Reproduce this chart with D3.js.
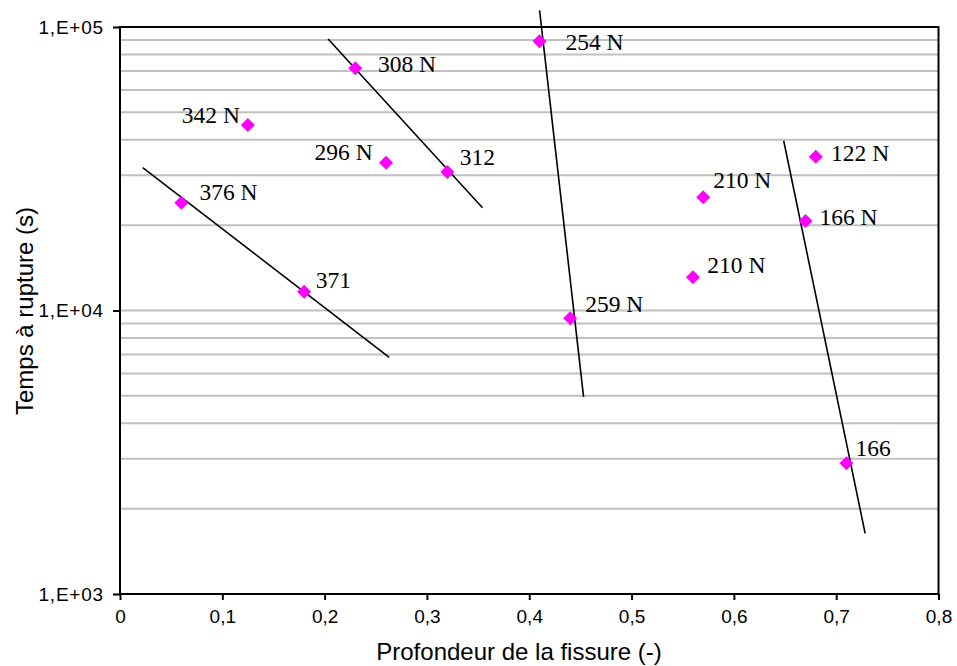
<!DOCTYPE html>
<html><head><meta charset="utf-8">
<script src="https://cdn.jsdelivr.net/npm/d3@7"></script>
<style>body{margin:0;background:#fff}svg{display:block}</style>
</head><body><svg id="c" width="957" height="666"></svg>
<script>
// Data
const depth   = [0.125, 0.06, 0.23, 0.26, 0.32, 0.41, 0.18, 0.44, 0.68, 0.57, 0.67, 0.56, 0.71];
const time    = [45100, 24000, 71500, 33200, 30800, 89000, 11650, 9385, 34880, 25070, 20690, 13100, 2890];
const labels  = ["342 N","376 N","308 N","296 N","312","254 N","371","259 N","122 N","210 N","166 N","210 N","166"];
// trend lines (start / end)
const trendX1 = [0.0222, 0.2034, 0.4101, 0.6487];
const trendY1 = [31900, 90700, 114500, 39700];
const trendX2 = [0.2631, 0.3543, 0.4531, 0.7283];
const trendY2 = [6840, 23050, 4955, 1637];
const xTicks = [0,0.1,0.2,0.3,0.4,0.5,0.6,0.7,0.8];
const yTicks = [1e3,1e4,1e5];
const yTickLabels = ["1,E+03","1,E+04","1,E+05"];
const xTitle = "Profondeur de la fissure (-)";
const yTitle = "Temps à rupture (s)";

// label offsets (style)
const lblDx = [-8,18,22.6,-13.4,12.3,26,11.7,15,15.3,10,14,14.3,9];
const lblDy = [-2,-3,3.4,-2.7,-7,8.7,-3.4,-6.6,4,-9,4,-4.6,-7.3];
const lblAnchor = ["end","start","start","end","start","start","start","start","start","start","start","start","start"];

const L=120, R=938.5, T=27, B=594;
const svg = d3.select("#c");
const x = d3.scaleLinear().domain([0,0.8]).range([L,R]);
const y = d3.scaleLog().domain([1e3,1e5]).range([B,T]);

// minor gridlines
const grid = [];
for (let k=3;k<5;k++) for (let m=1;m<=9;m++) grid.push(m*Math.pow(10,k));
svg.append("g").selectAll("line").data(grid.filter(v=>v>1e3)).join("line")
  .attr("x1",L).attr("x2",R).attr("y1",d=>y(d)).attr("y2",d=>y(d))
  .attr("stroke","#c0c0c0").attr("stroke-width",2);

// frame
svg.append("rect").attr("x",L).attr("y",T).attr("width",R-L).attr("height",B-T)
  .attr("fill","none").attr("stroke","#000").attr("stroke-width",2);

// axes
const xAxis = d3.axisBottom(x).tickValues(xTicks).tickSize(6).tickPadding(10)
  .tickFormat(d=>d3.format(".1~f")(d).replace(".",","));
const gx = svg.append("g").attr("transform",`translate(0,${B})`).call(xAxis);
const yAxis = d3.axisLeft(y).tickValues(yTicks).tickSize(7).tickPadding(9)
  .tickFormat((d,i)=>yTickLabels[i]);
const gy = svg.append("g").attr("transform",`translate(${L},0)`).call(yAxis);
[gx,gy].forEach(g=>{
  g.select(".domain").remove();
  g.selectAll(".tick line").attr("stroke","#000").attr("stroke-width",2);
  g.selectAll(".tick text").attr("fill","#000").attr("font-family","'Liberation Sans',Arial,sans-serif").attr("font-size",19);
});
gy.selectAll(".tick text").attr("letter-spacing",0.8);

// trend lines
svg.append("g").selectAll("line").data(trendX1).join("line")
  .attr("x1",(d,i)=>x(trendX1[i])).attr("y1",(d,i)=>y(trendY1[i]))
  .attr("x2",(d,i)=>x(trendX2[i])).attr("y2",(d,i)=>y(trendY2[i]))
  .attr("stroke","#000").attr("stroke-width",1.6);

// points
svg.append("g").selectAll("path").data(depth).join("path")
  .attr("d","M0,-7L7,0L0,7L-7,0Z")
  .attr("transform",(d,i)=>`translate(${x(depth[i])},${y(time[i])})`)
  .attr("fill","#ff00ff");

// labels
svg.append("g").selectAll("text").data(labels).join("text")
  .attr("x",(d,i)=>x(depth[i])+lblDx[i]).attr("y",(d,i)=>y(time[i])+lblDy[i])
  .attr("text-anchor",(d,i)=>lblAnchor[i])
  .attr("font-family","'Liberation Serif','Times New Roman',serif").attr("font-size",23.5)
  .attr("fill","#000").text(d=>d);

// titles
svg.append("text").attr("x",519).attr("y",660).attr("text-anchor","middle")
  .attr("font-family","'Liberation Sans',Arial,sans-serif").attr("font-size",24).text(xTitle);
svg.append("text").attr("transform",`translate(33,311) rotate(-90)`).attr("text-anchor","middle")
  .attr("font-family","'Liberation Sans',Arial,sans-serif").attr("font-size",24).text(yTitle);
</script></body></html>
